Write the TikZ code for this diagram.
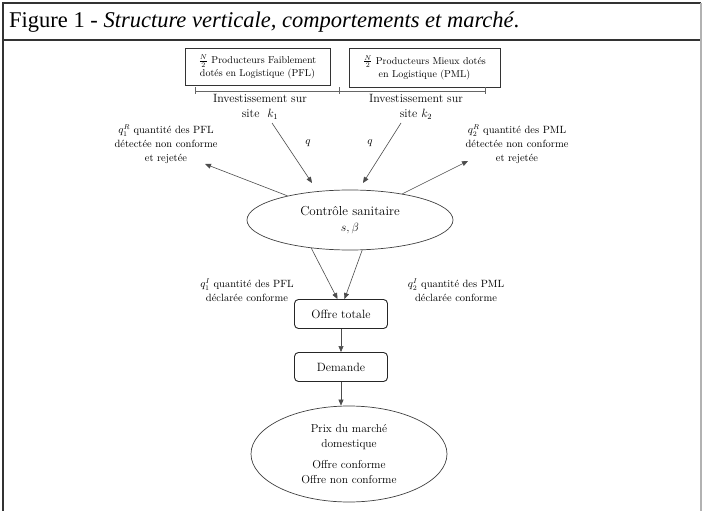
\documentclass[tikz,border=0pt]{standalone}
\usepackage{fontspec}
\newfontfamily\titlefont{Liberation Serif}
\usetikzlibrary{shapes.geometric,arrows.meta}
\begin{document}
\begin{tikzpicture}[x=1pt,y=-1pt,
  lbl/.style={font=\fontsize{10.5}{14}\selectfont, align=center, inner sep=0pt},
  mid/.style={font=\fontsize{12}{15}\selectfont, align=center, inner sep=0pt},
  pbox/.style={draw=black!80, line width=0.8pt, align=center, inner sep=2pt, font=\fontsize{10}{13}\selectfont},
  rbox/.style={draw=black!85, line width=0.9pt, rounded corners=4pt, minimum width=93pt, minimum height=29pt, font=\fontsize{12}{14}\selectfont},
  oval/.style={draw=black!75, line width=0.7pt, ellipse, align=center, inner sep=0pt},
  arr/.style={draw=black!70, line width=0.6pt, -{Triangle[length=6pt,width=5pt]}},
  frame/.style={draw=black!80, line width=1.2pt}]
\useasboundingbox (0,0) rectangle (702,511);
% frame
\coordinate (fTL) at (3,3);
\coordinate (fTR) at (701,3);
\coordinate (fHL) at (3,40);
\coordinate (fHR) at (701,40);
\coordinate (fBL) at (3,511);
\coordinate (fBR) at (701,511);
\draw[frame] (fBL) -- (fTL) -- (fTR);
\draw[frame] (fHL) -- (fHR);
\draw[draw=black!30, line width=1.2pt] (fTR) -- (fBR);
\node[anchor=base west, inner sep=0pt, font=\titlefont\fontsize{22.5}{26}\selectfont] (title) at (9,28)
  {Figure 1 - \textit{Structure verticale, comportements et marché}.};
% producers
\node[pbox, minimum width=145pt, minimum height=37pt] (pfl) at (257.5,67)
  {$\frac{N}{2}$ Producteurs Faiblement\\dotés en Logistique (PFL)};
\node[pbox, minimum width=151pt, minimum height=39pt] (pml) at (424.5,67.5)
  {$\frac{N}{2}$ Producteurs Mieux dotés\\en Logistique (PML)};
% bracket
\coordinate (bL) at (195,91);
\coordinate (bM) at (339,91);
\coordinate (bR) at (485,91);
\draw[black!60, line width=0.7pt] (bL) -- (bR);
\foreach \c in {bL,bM,bR} \draw[black!60, line width=0.7pt] (\c) ++(0,-3.5) -- ++(0,7);
\node[mid] (inv1) at (260,107) {Investissement sur\\site~ $k_1$};
\node[mid] (inv2) at (416,107) {Investissement sur\\site $k_2$};
% control
\node[oval, minimum width=206pt, minimum height=60pt, font=\fontsize{13}{16}\selectfont] (ctrl) at (350,220)
  {Contrôle sanitaire\\$s,\beta$};
\coordinate (q1s) at (272,123);
\coordinate (q2s) at (401,123);
\coordinate (q1e) at (312,183);
\coordinate (q2e) at (363,183);
\draw[arr] (q1s) -- (q1e);
\draw[arr] (q2s) -- (q2e);
\node[lbl] (q1) at (308,143) {$q$};
\node[lbl] (q2) at (370,143) {$q$};
% rejected
\node[lbl] (rej1) at (166,144) {$q_1^R$ quantité des PFL\\détectée non conforme\\et rejetée};
\node[lbl] (rej2) at (517,144) {$q_2^R$ quantité des PML\\détectée non conforme\\et rejetée};
\coordinate (r1) at (205,164);
\coordinate (r2) at (468,161);
\draw[arr] (ctrl) -- (r1);
\draw[arr] (ctrl) -- (r2);
% accepted
\node[lbl] (acc1) at (247,290) {$q_1^I$ quantité des PFL\\déclarée conforme};
\node[lbl] (acc2) at (456,290) {$q_2^I$ quantité des PML\\déclarée conforme};
\node[rbox] (offre) at (341,314) {Offre totale};
\node[rbox] (dem) at (341,367) {Demande};
\draw[arr] (ctrl.216) -- ([xshift=-3.5pt]offre.north);
\draw[arr] (ctrl.292) -- ([xshift=3.5pt]offre.north);
\draw[arr] (offre) -- (dem);
\node[oval, minimum width=196pt, minimum height=96pt, font=\fontsize{11.5}{14.5}\selectfont] (prix) at (349,454)
  {Prix du marché\\domestique\\[7pt]Offre conforme\\Offre non conforme};
\draw[arr] (dem.south) -- (dem.south |- prix.north);
\end{tikzpicture}
\end{document}
